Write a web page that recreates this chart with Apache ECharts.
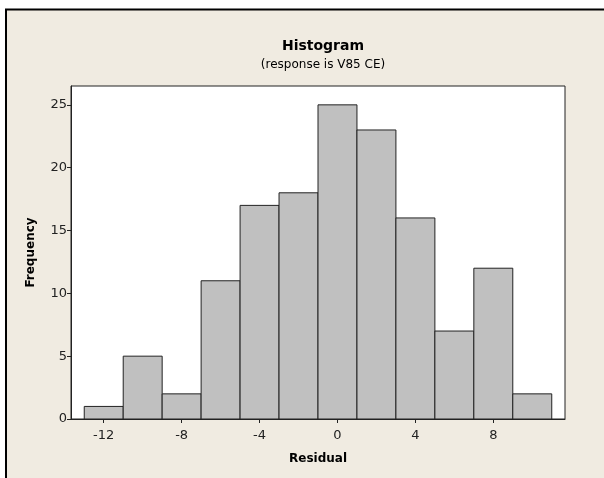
<!DOCTYPE html>
<html><head><meta charset="utf-8">
<script src="https://cdn.jsdelivr.net/npm/echarts@6/dist/echarts.min.js"></script>
<style>html,body{margin:0;padding:0;background:#fff}#c{width:604px;height:478px}</style>
</head><body><div id="c"></div>
<script>
const binStarts = [-13, -11, -9, -7, -5, -3, -1, 1, 3, 5, 7, 9];
const binWidth = 2;
const frequencies = [1, 5, 2, 11, 17, 18, 25, 23, 16, 7, 12, 2];
const xTicks = [-12, -8, -4, 0, 4, 8];
const yTicks = [0, 5, 10, 15, 20, 25];

const data = binStarts.map((s, i) => [s, s + binWidth, frequencies[i]]);
const chart = echarts.init(document.getElementById('c'), null, {renderer: 'canvas'});
const font = 'Tahoma, "DejaVu Sans", sans-serif';
chart.setOption({
  animation: false,
  backgroundColor: '#ffffff',
  graphic: [
    {type: 'rect', z: -10, shape: {x: 6, y: 9, width: 620, height: 490}, style: {fill: '#f0ebe1', stroke: 'none', lineWidth: 0}},
    {type: 'line', z: -9, shape: {x1: 5, y1: 9.5, x2: 604, y2: 9.5}, style: {stroke: '#000', lineWidth: 2}},
    {type: 'line', z: -9, shape: {x1: 6, y1: 9, x2: 6, y2: 478}, style: {stroke: '#000', lineWidth: 2}}
  ],
  title: {
    text: 'Histogram',
    subtext: '(response is V85 CE)',
    left: 318, top: 34, textAlign: 'center',
    itemGap: 6,
    textStyle: {fontFamily: font, fontSize: 14, fontWeight: 'bold', color: '#000'},
    subtextStyle: {fontFamily: font, fontSize: 12, color: '#000'}
  },
  grid: {left: 71, right: 39, top: 86, bottom: 59, show: true, backgroundColor: '#fff', borderColor: '#222', borderWidth: 1},
  xAxis: {
    type: 'value', min: -13.68, max: 11.68,
    name: 'Residual', nameLocation: 'middle', nameGap: 34,
    nameTextStyle: {fontFamily: font, fontSize: 12, fontWeight: 'bold', color: '#000'},
    axisLine: {show: true, onZero: false, lineStyle: {color: '#222'}},
    axisTick: {show: true, length: 4, customValues: xTicks, lineStyle: {color: '#222'}},
    axisLabel: {customValues: xTicks, fontFamily: font, fontSize: 13, color: '#222', margin: 10},
    splitLine: {show: false}
  },
  yAxis: {
    type: 'value', min: 0, max: 26.5,
    name: 'Frequency', nameLocation: 'middle', nameGap: 34,
    nameTextStyle: {fontFamily: font, fontSize: 12, fontWeight: 'bold', color: '#000'},
    axisLine: {show: true, onZero: false, lineStyle: {color: '#222'}},
    axisTick: {show: true, length: 4, customValues: yTicks, lineStyle: {color: '#222'}},
    axisLabel: {customValues: yTicks, fontFamily: font, fontSize: 13, color: '#222', margin: 4},
    splitLine: {show: false}
  },
  series: [{
    type: 'custom',
    data: data,
    encode: {x: [0, 1], y: 2},
    renderItem: function (params, api) {
      const p0 = api.coord([api.value(0), 0]);
      const p1 = api.coord([api.value(1), api.value(2)]);
      return {
        type: 'rect',
        shape: {x: p0[0], y: p1[1], width: p1[0] - p0[0], height: p0[1] - p1[1]},
        style: {fill: '#c0c0c0', stroke: '#222', lineWidth: 1}
      };
    }
  }]
});
</script></body></html>
